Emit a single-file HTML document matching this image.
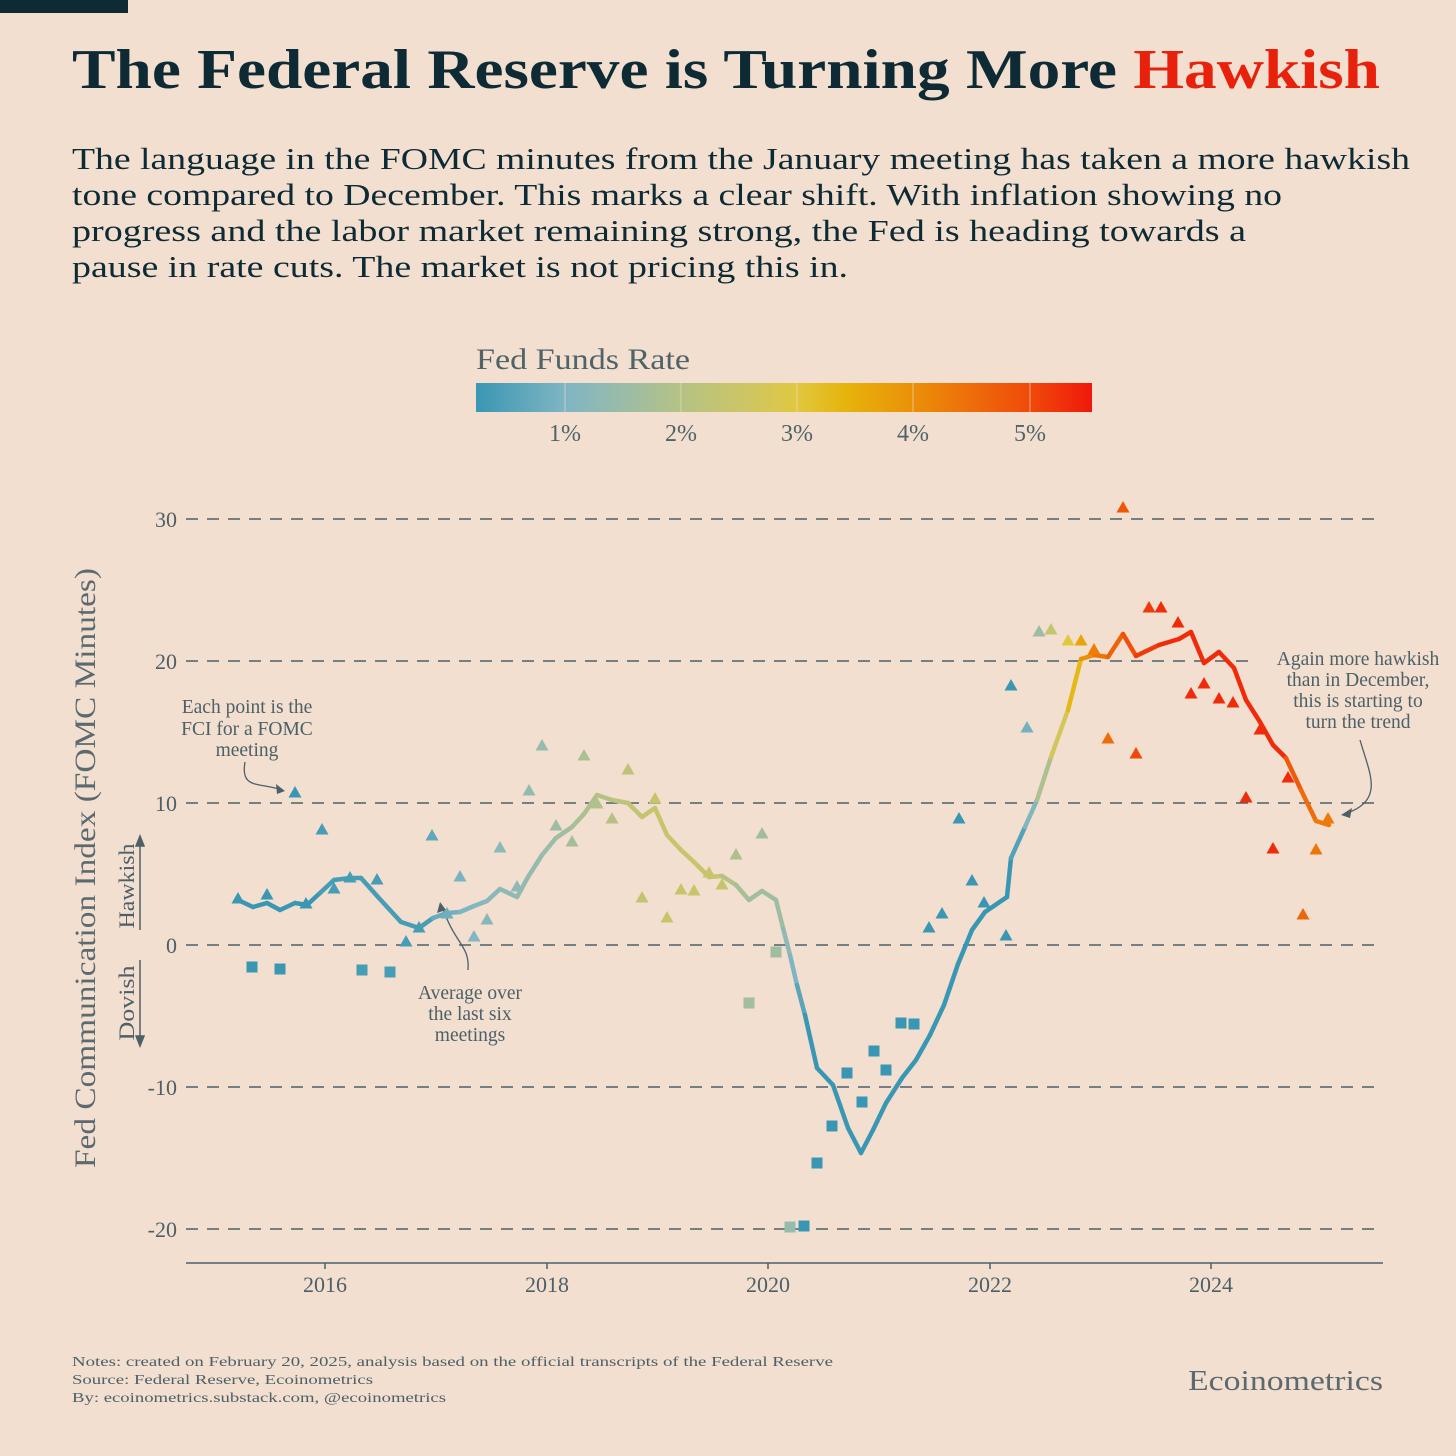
<!DOCTYPE html>
<html><head><meta charset="utf-8">
<style>
html,body{margin:0;padding:0;background:#f2dfcf;}
svg{display:block;font-family:"Liberation Serif",serif;}
</style></head>
<body>
<svg id="s" width="1456" height="1456" viewBox="0 0 1456 1456" xmlns="http://www.w3.org/2000/svg">
<rect width="1456" height="1456" fill="#f2dfcf"/>
<rect x="0" y="0" width="128" height="13" fill="#0d2a35"/>
<text x="72" y="88" font-size="56" font-weight="bold" fill="#0d2a35" textLength="1308" lengthAdjust="spacingAndGlyphs">The Federal Reserve is Turning More <tspan fill="#e8210c">Hawkish</tspan></text>
<g font-size="31" fill="#0d2a35">
<text x="72" y="169" textLength="1338" lengthAdjust="spacingAndGlyphs">The language in the FOMC minutes from the January meeting has taken a more hawkish</text>
<text x="72" y="205" textLength="1210" lengthAdjust="spacingAndGlyphs">tone compared to December. This marks a clear shift. With inflation showing no</text>
<text x="72" y="241" textLength="1174" lengthAdjust="spacingAndGlyphs">progress and the labor market remaining strong, the Fed is heading towards a</text>
<text x="72" y="277" textLength="776" lengthAdjust="spacingAndGlyphs">pause in rate cuts. The market is not pricing this in.</text>
</g>
<defs>
<linearGradient id="cb" x1="0" x2="1" y1="0" y2="0">
<stop offset="0" stop-color="#3a97b3"/>
<stop offset="0.145" stop-color="#7fb5c3"/>
<stop offset="0.24" stop-color="#9bbca8"/>
<stop offset="0.333" stop-color="#b5c285"/>
<stop offset="0.45" stop-color="#d0c660"/>
<stop offset="0.52" stop-color="#e0c840"/>
<stop offset="0.60" stop-color="#e6b40c"/>
<stop offset="0.71" stop-color="#ea9008"/>
<stop offset="0.80" stop-color="#ee6e0a"/>
<stop offset="0.90" stop-color="#ef4a0a"/>
<stop offset="1" stop-color="#f0180a"/>
</linearGradient>
</defs>
<text x="476" y="369" font-size="30" fill="#4f6369" textLength="214" lengthAdjust="spacingAndGlyphs">Fed Funds Rate</text>
<rect x="476" y="383" width="616" height="29" fill="url(#cb)"/>
<g stroke="#f2dfcf" stroke-width="1" opacity="0.6">
<line x1="565" y1="383" x2="565" y2="412"/><line x1="681" y1="383" x2="681" y2="412"/><line x1="797" y1="383" x2="797" y2="412"/><line x1="913" y1="383" x2="913" y2="412"/><line x1="1030" y1="383" x2="1030" y2="412"/>
</g>
<g font-size="24" fill="#4f6369" text-anchor="middle">
<text x="565" y="441">1%</text><text x="681" y="441">2%</text><text x="797" y="441">3%</text><text x="913" y="441">4%</text><text x="1030" y="441">5%</text>
</g>
<g stroke="#4d6068" stroke-width="1.6" stroke-dasharray="12,9">
<line x1="186" y1="519" x2="1383" y2="519"/>
<line x1="186" y1="661" x2="1383" y2="661"/>
<line x1="186" y1="803" x2="1383" y2="803"/>
<line x1="186" y1="945" x2="1383" y2="945"/>
<line x1="186" y1="1087" x2="1383" y2="1087"/>
<line x1="186" y1="1229" x2="1383" y2="1229"/>
</g>
<g font-size="22" fill="#4d6068" text-anchor="end">
<text x="177" y="527">30</text><text x="177" y="669">20</text><text x="177" y="811">10</text><text x="177" y="953">0</text><text x="177" y="1095">-10</text><text x="177" y="1237">-20</text>
</g>
<line x1="186" y1="1263" x2="1383" y2="1263" stroke="#4d6068" stroke-width="1.5"/>
<g stroke="#4d6068" stroke-width="1.5">
<line x1="325" y1="1263" x2="325" y2="1269"/><line x1="547" y1="1263" x2="547" y2="1269"/><line x1="768" y1="1263" x2="768" y2="1269"/><line x1="990" y1="1263" x2="990" y2="1269"/><line x1="1211" y1="1263" x2="1211" y2="1269"/>
</g>
<g font-size="22" fill="#4d6068" text-anchor="middle">
<text x="325" y="1292">2016</text><text x="547" y="1292">2018</text><text x="768" y="1292">2020</text><text x="990" y="1292">2022</text><text x="1211" y="1292">2024</text>
</g>
<text transform="translate(95,868) rotate(-90)" font-size="30" fill="#5a6a70" text-anchor="middle" textLength="600" lengthAdjust="spacingAndGlyphs">Fed Communication Index (FOMC Minutes)</text>
<text transform="translate(134,886) rotate(-90)" font-size="22" fill="#4d6068" text-anchor="middle" textLength="85" lengthAdjust="spacingAndGlyphs">Hawkish</text>
<text transform="translate(134,1003) rotate(-90)" font-size="22" fill="#4d6068" text-anchor="middle" textLength="75" lengthAdjust="spacingAndGlyphs">Dovish</text>
<g stroke="#4d6068" stroke-width="1.5" fill="#4d6068">
<line x1="140" y1="930" x2="140" y2="842"/><path d="M136,846 L140,836 L144,846 Z"/>
<line x1="140" y1="960" x2="140" y2="1040"/><path d="M136,1036 L140,1046 L144,1036 Z"/>
</g>
<rect x="1255" y="645" width="201" height="90" fill="#f2dfcf"/>
<g font-size="19.5" fill="#4d6068" text-anchor="middle">
<text x="247" y="713">Each point is the</text><text x="247" y="735">FCI for a FOMC</text><text x="247" y="756">meeting</text>
<text x="470" y="999">Average over</text><text x="470" y="1020">the last six</text><text x="470" y="1041">meetings</text>
<text x="1358" y="665">Again more hawkish</text><text x="1358" y="686">than in December,</text><text x="1358" y="707">this is starting to</text><text x="1358" y="728">turn the trend</text>
</g>
<g stroke="#4d6068" stroke-width="1.3" fill="none">
<path d="M245,762 C240,790 260,782 282,790"/>
<path d="M468,970 C470,945 455,945 442,906"/>
<path d="M1360,740 C1370,775 1385,800 1345,814"/>
</g>
<g fill="#4d6068">
<path d="M285,791 L276,784 L277,794 Z"/>
<path d="M440,902 L437,913 L446,910 Z"/>
<path d="M1341,815 L1352,808 L1350,818 Z"/>
</g>
<g id="plot"></g>
<g font-size="14" fill="#4d6068">
<text x="72" y="1366" textLength="761" lengthAdjust="spacingAndGlyphs">Notes: created on February 20, 2025, analysis based on the official transcripts of the Federal Reserve</text>
<text x="72" y="1384" textLength="301" lengthAdjust="spacingAndGlyphs">Source: Federal Reserve, Ecoinometrics</text>
<text x="72" y="1402" textLength="374" lengthAdjust="spacingAndGlyphs">By: ecoinometrics.substack.com, @ecoinometrics</text>
</g>
<text x="1383" y="1390" font-size="29" fill="#5a6a70" text-anchor="end" textLength="195" lengthAdjust="spacingAndGlyphs">Ecoinometrics</text>
</svg>
<script>
var cmap=[[0.23,[58,151,179]],[1.0,[127,181,195]],[1.5,[155,188,168]],[2.0,[181,194,133]],[2.6,[208,198,96]],[3.0,[224,200,64]],[3.4,[230,180,12]],[4.0,[234,144,8]],[4.5,[238,110,10]],[5.0,[239,74,10]],[5.54,[240,24,10]]];
function col(r){if(r<=cmap[0][0])r=cmap[0][0];if(r>=5.54)r=5.54;
for(var i=0;i<cmap.length-1;i++){var a=cmap[i],b=cmap[i+1];if(r>=a[0]&&r<=b[0]){var t=(r-a[0])/(b[0]-a[0]);
return 'rgb('+[0,1,2].map(function(k){return Math.round(a[1][k]+t*(b[1][k]-a[1][k]));}).join(',')+')';}}return 'rgb(240,24,10)';}
var rt=[[0,0.13],[320,0.13],[321,0.38],[430,0.38],[431,0.66],[458,0.91],[486,1.16],[540,1.41],[568,1.66],[596,1.91],[624,2.16],[653,2.4],[722,2.4],[723,2.13],[734,1.88],[749,1.63],[786,1.6],[790,0.1],[1012,0.1],[1013,0.33],[1026,0.83],[1040,1.58],[1051,2.33],[1070,3.08],[1084,3.83],[1095,4.33],[1112,4.58],[1123,4.83],[1140,5.08],[1162,5.33],[1289,5.33],[1291,4.83],[1305,4.58],[1319,4.33],[1500,4.33]];
function rate(x){for(var i=0;i<rt.length-1;i++){if(x>=rt[i][0]&&x<=rt[i+1][0]){var t=(x-rt[i][0])/(rt[i+1][0]-rt[i][0]);return rt[i][1]+t*(rt[i+1][1]-rt[i][1]);}}return 4.33;}
var line=[[238,900],[253,907],[267,903],[280,910],[295,903],[307,905],[320,893],[334,880],[350,878],[361,878],[378,897],[401,922],[419,928],[433,918],[447,913],[460,912],[474,906],[487,901],[500,889],[517,897],[528,877],[542,855],[556,838],[572,827],[584,814],[597,795],[612,800],[628,803],[642,817],[655,808],[667,835],[681,850],[694,862],[709,877],[722,876],[736,885],[749,900],[762,891],[776,900],[783,928],[790,955],[797,985],[805,1015],[817,1068],[833,1085],[848,1128],[861,1153],[873,1130],[886,1103],[902,1078],[916,1060],[930,1035],[944,1005],[958,964],[972,930],[985,912],[1007,897],[1011,858],[1025,827],[1037,800],[1051,757],[1068,710],[1081,659],[1094,655],[1108,657],[1123,634],[1136,656],[1159,645],[1179,639],[1191,632],[1204,663],[1219,652],[1234,668],[1246,700],[1260,722],[1273,745],[1286,758],[1301,790],[1316,821],[1329,825]];
var special={776:1.55,783:1.3,790:1.0,797:0.6};
var tri=[[238,898],[267,894],[295,792],[306,903],[322,829],[334,888],[350,877],[377,879],[406,941],[419,927],[432,835],[447,913],[460,876],[474,936],[487,919],[500,847],[517,886],[529,790],[542,745],[556,825],[572,841],[584,755],[597,803],[612,818],[628,769],[642,897],[655,798],[667,917],[681,889],[694,890],[709,872],[722,884],[736,854],[762,833],[929,927],[942,913],[959,818],[972,880],[984,902],[1006,935],[1011,685],[1027,727],[1039,631],[1051,629],[1068,640],[1081,640],[1094,649],[1108,738],[1123,507],[1136,753],[1149,607],[1161,607],[1178,622],[1191,693],[1204,683],[1219,698],[1233,702],[1246,797],[1260,729],[1273,848],[1288,777],[1303,914],[1316,849],[1328,818]];
var sq=[[252,967],[280,969],[362,970],[390,972],[749,1003],[776,952],[790,1227],[804,1226],[832,1126],[817,1163],[847,1073],[862,1102],[874,1051],[886,1070],[901,1023],[914,1024]];
var h='';
for(var i=0;i<line.length-1;i++){var a=line[i],b=line[i+1];var r=(a[0] in special)?special[a[0]]:rate((a[0]+b[0])/2);var c=col(r);
h+='<line x1="'+a[0]+'" y1="'+a[1]+'" x2="'+b[0]+'" y2="'+b[1]+'" stroke="'+c+'" stroke-width="4.5" stroke-linecap="round"/>';}
tri.forEach(function(p){var c=col(rate(p[0]));h+='<path d="M'+(p[0]-6.5)+','+(p[1]+5.5)+' L'+p[0]+','+(p[1]-6)+' L'+(p[0]+6.5)+','+(p[1]+5.5)+' Z" fill="'+c+'"/>';});
sq.forEach(function(p){var r=rate(p[0]);if(p[0]>=786&&p[0]<800&&p[1]>1200)r=1.4;if(p[0]>800&&p[1]>1200)r=0.2;var c=col(r);h+='<rect x="'+(p[0]-5.5)+'" y="'+(p[1]-5.5)+'" width="11" height="11" fill="'+c+'"/>';});
document.getElementById('plot').innerHTML=h;
</script>
</body></html>
